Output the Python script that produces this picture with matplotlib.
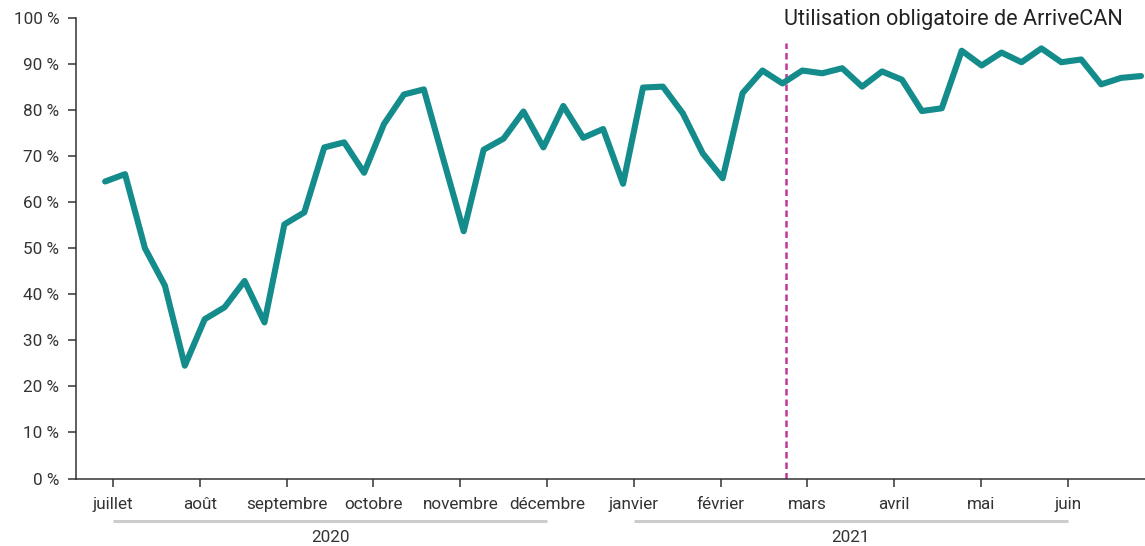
import numpy as np
import matplotlib
matplotlib.use("Agg")
import matplotlib.pyplot as plt
import matplotlib.transforms as mtransforms

# weekly share (%), july 2020 -> june 2021
share = [64.5, 66.1, 50.0, 41.9, 24.5, 34.6, 37.2, 42.9, 33.9, 55.2,
         57.8, 71.9, 73.0, 66.4, 77.0, 83.4, 84.5, 69.0, 53.7, 71.4,
         73.8, 79.7, 71.9, 80.9, 74.0, 75.9, 64.0, 84.9, 85.1, 79.3,
         70.6, 65.2, 83.7, 88.6, 85.8, 88.6, 88.0, 89.1, 85.1, 88.4,
         86.6, 79.8, 80.4, 92.9, 89.7, 92.5, 90.4, 93.4, 90.4, 91.0,
         85.6, 87.0, 87.4]
months = ["juillet", "août", "septembre", "octobre", "novembre", "décembre",
          "janvier", "février", "mars", "avril", "mai", "juin"]
years = ["2020", "2021"]
arrivecan_week = 34.2
note = "Utilisation obligatoire de ArriveCAN"

plt.rcParams["font.family"] = ["Roboto", "DejaVu Sans"]

teal = "#148c8c"
magenta = "#c0379a"
dark = "#333333"

fig = plt.figure(figsize=(11.45, 5.46), dpi=100)
ax = fig.add_axes([0.0664, 0.1236, 0.9336, 0.8434])

x = np.arange(len(share))
ax.plot(x, share, color=teal, lw=4.4, solid_joinstyle="round", solid_capstyle="round", zorder=3)
ax.axvline(arrivecan_week, ymax=0.945, color=magenta, lw=1.8, ls=(0, (2.6, 1.6)), zorder=2)
ax.text(arrivecan_week - 0.1, 99.6, note, ha="left", va="center", fontsize=15.6, color="#222222")

ax.set_xlim(-1.46, 52.2)
ax.set_ylim(0, 100)
ax.set_yticks(np.arange(0, 101, 10))
ax.set_yticklabels([f"{v} %" for v in range(0, 101, 10)])

tick_pos = 0.4 + 4.357 * np.arange(len(months))
ax.set_xticks(tick_pos)
ax.set_xticklabels(months)

for s in ["top", "right"]:
    ax.spines[s].set_visible(False)
for s in ["left", "bottom"]:
    ax.spines[s].set_color(dark)
    ax.spines[s].set_linewidth(1.1)
ax.tick_params(axis="both", colors=dark, labelcolor=dark, labelsize=12.3, length=6, width=1.1)
ax.tick_params(axis="x", pad=7)
ax.tick_params(axis="y", pad=6)

# year brackets under the month labels
trans = mtransforms.blended_transform_factory(ax.transData, ax.transAxes)
groups = [(tick_pos[0], tick_pos[5]), (tick_pos[6], tick_pos[11])]
for (a, b), yr in zip(groups, years):
    ax.plot([a, b], [-0.093, -0.093], transform=trans, color="#cccccc", lw=2.2,
            clip_on=False, solid_capstyle="butt")
    ax.text((a + b) / 2, -0.128, yr, transform=trans, ha="center", va="center",
            fontsize=12.3, color=dark)

fig.savefig("out.png", dpi=100)
